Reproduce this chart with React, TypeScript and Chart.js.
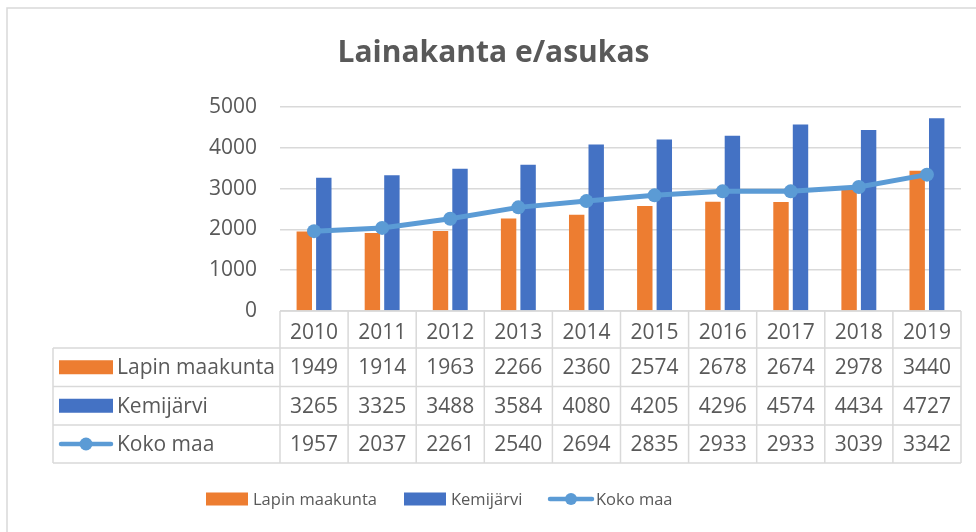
import React, { useEffect, useRef } from "react";
import { Chart, registerables } from "chart.js";

Chart.register(...registerables);

// Loan stock per inhabitant (euros), 2010–2019
const years = ["2010", "2011", "2012", "2013", "2014", "2015", "2016", "2017", "2018", "2019"];
const lapinMaakunta = [1949, 1914, 1963, 2266, 2360, 2574, 2678, 2674, 2978, 3440];
const kemijarvi = [3265, 3325, 3488, 3584, 4080, 4205, 4296, 4574, 4434, 4727];
const kokoMaa = [1957, 2037, 2261, 2540, 2694, 2835, 2933, 2933, 3039, 3342];

const seriesNames = ["Lapin maakunta", "Kemijärvi", "Koko maa"];
const ORANGE = "#ED7D31";
const BLUE = "#4472C4";
const LIGHT_BLUE = "#5B9BD5";
const TEXT = "#595959";
const GRID = "#d9d9d9";
const FONT = "'Open Sans', sans-serif";

// Draws the key symbol for a series: a filled bar box or a line with a dot
function drawKey(ctx: CanvasRenderingContext2D, kind: number, x: number, y: number, w: number, h: number, r: number) {
  if (kind < 2) {
    ctx.fillStyle = kind === 0 ? ORANGE : BLUE;
    ctx.fillRect(x, y - h / 2, w, h);
  } else {
    ctx.strokeStyle = LIGHT_BLUE;
    ctx.lineWidth = 4.5;
    ctx.lineCap = "round";
    ctx.beginPath();
    ctx.moveTo(x + 2, y);
    ctx.lineTo(x + w - 2, y);
    ctx.stroke();
    ctx.fillStyle = LIGHT_BLUE;
    ctx.beginPath();
    ctx.arc(x + w / 2, y, r, 0, Math.PI * 2);
    ctx.fill();
  }
}

// Frame, data table under the x axis and the bottom legend
const tablePlugin = {
  id: "dataTable",
  afterDraw(chart: any) {
    const ctx: CanvasRenderingContext2D = chart.ctx;
    const xs = chart.scales.x;
    const n = years.length;
    const colW = (xs.right - xs.left) / n;
    const top = chart.chartArea.bottom;
    const rows = [top, top + 37, top + 75.5, top + 114, top + 152];
    const tableLeft = 53;

    ctx.save();
    // outer frame
    ctx.strokeStyle = GRID;
    ctx.lineWidth = 1.5;
    ctx.beginPath();
    ctx.moveTo(7, chart.height);
    ctx.lineTo(7, 8);
    ctx.lineTo(chart.width, 8);
    ctx.stroke();

    // table grid
    ctx.lineWidth = 1.5;
    ctx.beginPath();
    for (let i = 0; i <= n; i++) {
      const x = xs.left + i * colW;
      ctx.moveTo(x, rows[0]);
      ctx.lineTo(x, rows[4]);
    }
    ctx.moveTo(xs.left, rows[0]);
    ctx.lineTo(xs.right, rows[0]);
    for (let r = 1; r <= 4; r++) {
      ctx.moveTo(tableLeft, rows[r]);
      ctx.lineTo(xs.right, rows[r]);
    }
    ctx.moveTo(tableLeft, rows[1]);
    ctx.lineTo(tableLeft, rows[4]);
    ctx.stroke();

    // table rows
    const values = [lapinMaakunta, kemijarvi, kokoMaa];
    ctx.font = `21px ${FONT}`;
    ctx.textBaseline = "middle";
    for (let r = 0; r < 3; r++) {
      const cy = (rows[r + 1] + rows[r + 2]) / 2;
      drawKey(ctx, r, 59, cy, 54, 14, 6.5);
      ctx.fillStyle = TEXT;
      ctx.textAlign = "left";
      ctx.fillText(seriesNames[r], 117, cy + 1);
      ctx.textAlign = "center";
      values[r].forEach((v, i) => {
        ctx.fillText(String(v), xs.left + (i + 0.5) * colW, cy + 1);
      });
    }

    // bottom legend
    const ly = 499;
    const legendX = [206, 404, 548];
    ctx.font = `16.5px ${FONT}`;
    ctx.textAlign = "left";
    for (let r = 0; r < 3; r++) {
      drawKey(ctx, r, legendX[r], ly, r < 2 ? 42 : 46, 13, 6);
      ctx.fillStyle = TEXT;
      ctx.fillText(seriesNames[r], legendX[r] + (r < 2 ? 47 : 48), ly + 1);
    }
    ctx.restore();
  },
};

export default function App() {
  const ref = useRef<HTMLCanvasElement | null>(null);

  useEffect(() => {
    document.body.style.margin = "0";
    if (!ref.current) return;
    const chart = new Chart(ref.current, {
      type: "bar",
      data: {
        labels: years,
        datasets: [
          {
            type: "line",
            label: seriesNames[2],
            data: kokoMaa,
            borderColor: LIGHT_BLUE,
            backgroundColor: LIGHT_BLUE,
            borderWidth: 5,
            pointRadius: 7,
            pointBorderWidth: 0,
            pointBackgroundColor: LIGHT_BLUE,
            tension: 0,
            order: 0,
          },
          {
            type: "bar",
            label: seriesNames[0],
            data: lapinMaakunta,
            backgroundColor: ORANGE,
            categoryPercentage: 0.573,
            barPercentage: 0.79,
            order: 1,
          },
          {
            type: "bar",
            label: seriesNames[1],
            data: kemijarvi,
            backgroundColor: BLUE,
            categoryPercentage: 0.573,
            barPercentage: 0.79,
            order: 1,
          },
        ],
      },
      options: {
        animation: false,
        responsive: true,
        maintainAspectRatio: false,
        layout: { padding: { top: 0, left: 26, right: 15, bottom: 0 } },
        plugins: {
          legend: { display: false },
          tooltip: { enabled: false },
          title: {
            display: true,
            text: "Lainakanta e/asukas",
            color: TEXT,
            font: { family: FONT, size: 30, weight: "bold" },
            padding: { top: 35, bottom: 36 },
          },
        },
        scales: {
          x: {
            grid: { display: false },
            border: { display: false },
            ticks: { color: TEXT, font: { family: FONT, size: 21 }, padding: 1 },
            afterFit: (scale: any) => {
              scale.height = 221;
            },
          },
          y: {
            min: 0,
            max: 5000,
            ticks: {
              stepSize: 1000,
              color: TEXT,
              font: { family: FONT, size: 21 },
              padding: 23,
              callback: (v: any) => String(v),
            },
            grid: { color: GRID, lineWidth: 1.5, drawTicks: false },
            border: { display: false },
            afterFit: (scale: any) => {
              scale.width = 254;
            },
          },
        },
      },
      plugins: [tablePlugin],
    });
    return () => chart.destroy();
  }, []);

  return (
    <div style={{ position: "relative", width: 976, height: 532 }}>
      <canvas ref={ref} />
    </div>
  );
}
